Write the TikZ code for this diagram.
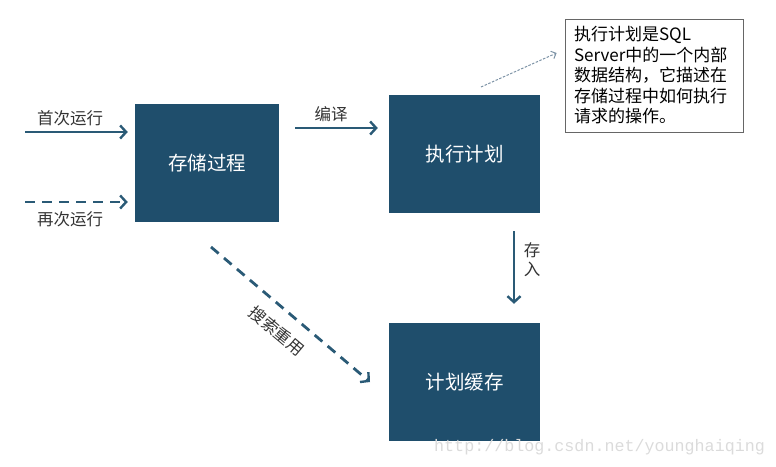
\documentclass[tikz,border=0pt]{standalone}
\usepackage{fontspec}
\setmainfont{Noto Sans CJK SC}
\newfontfamily\wmfont{Liberation Mono}
\usetikzlibrary{arrows.meta}
\definecolor{boxblue}{HTML}{1F4E6C}
\definecolor{arrowblue}{HTML}{2A5A76}
\definecolor{labelgray}{HTML}{333333}
\definecolor{pointergray}{HTML}{7D93A6}
\tikzset{
  procbox/.style={fill=boxblue, draw=none, text=white, font=\fontsize{19.5}{22}\selectfont, inner sep=0pt},
  flow/.style={draw=arrowblue, line width=2.8pt, -{Straight Barb[length=6pt,width=13pt,line width=2.4pt]}},
  dashflow/.style={flow, dash pattern=on 10pt off 7pt},
  lbl/.style={text=labelgray, font=\fontsize{16.5}{19}\selectfont, inner sep=0pt},
  note/.style={draw=gray!80!black, line width=0.8pt, fill=white, text=black, align=left, inner sep=0pt,
    font=\fontsize{17}{20.5}\selectfont},
  pointer/.style={draw=pointergray, line width=1pt, dash pattern=on 2.5pt off 1.5pt, -{Straight Barb[length=4pt,width=8pt]}}
}
\begin{document}
\begin{tikzpicture}[x=1pt,y=-1pt]
\useasboundingbox (0,0) rectangle (776,466);
\node[procbox, minimum width=144pt, minimum height=118pt] (sp) at (207,163) {存储过程};
\node[procbox, minimum width=151pt, minimum height=118pt] (ep) at (464.5,154) {执行计划};
\node[procbox, minimum width=151pt, minimum height=118pt] (cache) at (464.5,382) {计划缓存};
\node[note, minimum width=178pt, minimum height=113pt] (nt) at (654,75.5) {\parbox[c][113pt][c]{160pt}{执行计划是SQL\\Server中的一个内部\\数据结构，它描述在\\存储过程中如何执行\\请求的操作。}};

\coordinate (f1) at (25,132);
\coordinate (f2) at (25,202);
\draw[flow] (f1) -- ([xshift=-7pt]sp.west |- f1);
\draw[dashflow] (f2) -- ([xshift=-7pt]sp.west |- f2);
\node[lbl] (l1) at (70,118) {首次运行};
\node[lbl] (l2) at (70,219) {再次运行};

\coordinate (c1) at (295,128);
\draw[flow] (c1) -- ([xshift=-11pt]ep.west |- c1);
\node[lbl] (l3) at (331,114) {编译};

\coordinate (d1) at (514,231);
\draw[flow] (d1) -- ([yshift=19pt]cache.north -| d1);
\node[lbl, align=center] (l4) at (532,260) {存\\入};

\coordinate (r1) at (211,247);
\coordinate (r2) at (370,382);
\draw[dashflow] (r1) -- (r2);
\node[lbl, rotate=-40] (l5) at (277,331) {搜索重用};

\coordinate (p1) at (481,87);
\draw[pointer] (p1) -- ([xshift=-8pt,yshift=22.5pt]nt.west);

\node[text=gray!28, font=\wmfont\fontsize{16.7}{18}\selectfont, anchor=west, inner sep=0pt] (wm) at (434,447) {http://blog.csdn.net/younghaiqing};
\end{tikzpicture}
\end{document}
